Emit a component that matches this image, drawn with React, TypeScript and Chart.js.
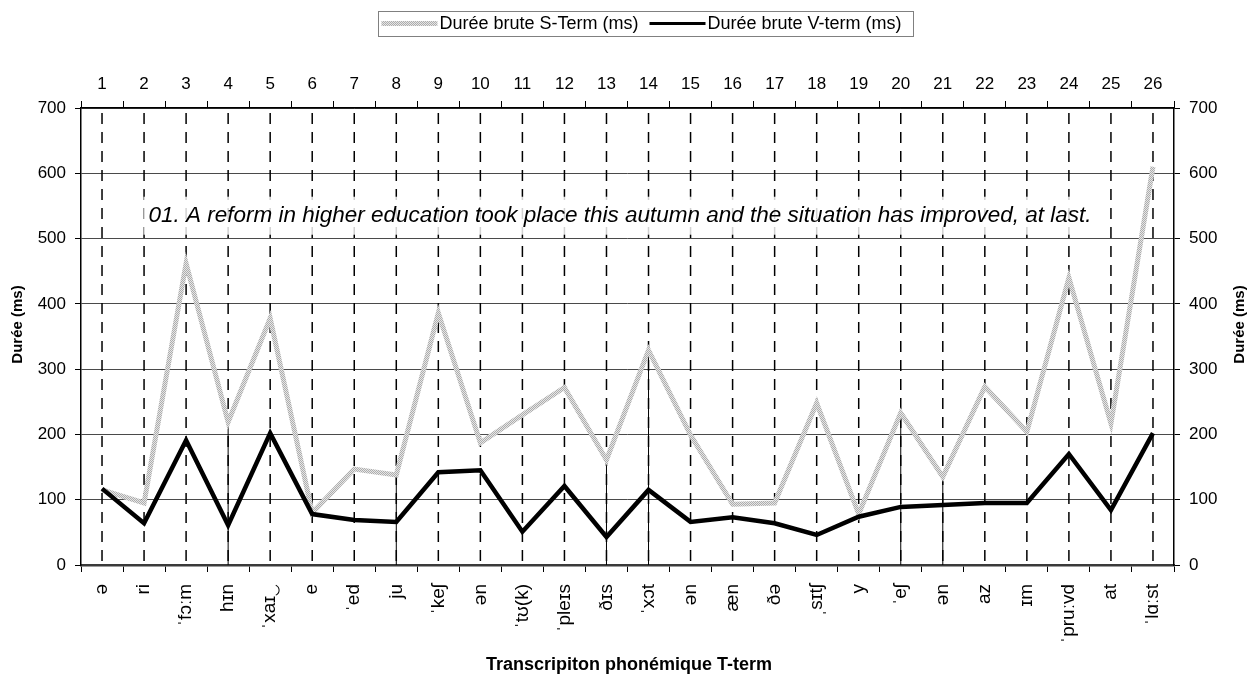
import React, { useEffect, useRef } from "react";
import { Chart, registerables } from "chart.js";

Chart.register(...registerables);

const categories = ["ə", "ri", "ˈfɔːm", "hɪn", "ˈxaɪ‿", "e", "ˈed", "ju", "ˈkeʃ", "ən", "ˈtʊ(k)", "ˈpleɪs", "ðɪs", "ˈxɔt", "ən", "æn", "ðə", "ˌsɪtʃ", "y", "ˈeʃ", "ən", "az", "ɪm", "ˈpruːvd", "at", "ˈlɑːst"];
const topLabels = ["1", "2", "3", "4", "5", "6", "7", "8", "9", "10", "11", "12", "13", "14", "15", "16", "17", "18", "19", "20", "21", "22", "23", "24", "25", "26"];
const sTerm = [115, 95, 462, 219, 378, 80, 147, 138, 386, 187, 230, 272, 161, 329, 199, 93, 95, 248, 78, 233, 135, 273, 204, 440, 217, 610];
const vTerm = [117, 64, 191, 61, 202, 78, 69, 66, 142, 145, 51, 121, 43, 115, 66, 73, 64, 46, 74, 89, 92, 95, 95, 170, 84, 202];
const yMin = 0;
const yMax = 700;
const yStep = 100;
const dropLineCats = [4, 8, 13, 14, 20, 21];
const seriesNames = ["Durée brute S-Term (ms)", "Durée brute V-term (ms)"];
const yTitle = "Durée (ms)";
const xTitle = "Transcripiton phonémique T-term";
const annotation = "01. A reform in higher education took place this autumn and the situation has improved, at last.";

const FAMILY = '"Liberation Sans", Arial, sans-serif';

export default function App() {
  const ref = useRef<HTMLCanvasElement>(null);

  useEffect(() => {
    const canvas = ref.current!;
    const pc = document.createElement("canvas");
    pc.width = 2;
    pc.height = 2;
    const g = pc.getContext("2d")!;
    g.fillStyle = "#e6e6e6";
    g.fillRect(0, 0, 2, 2);
    g.fillStyle = "#adadad";
    g.fillRect(0, 0, 1, 1);
    g.fillRect(1, 1, 1, 1);
    const pattern = canvas.getContext("2d")!.createPattern(pc, "repeat")!;

    const overlay = {
      id: "overlay",
      beforeDatasetsDraw(chart: any) {
        const { ctx, chartArea: a, scales } = chart;
        const xs = scales.x;
        const ys = scales.y;
        ctx.save();
        ctx.strokeStyle = "#000";
        ctx.lineWidth = 1.5;
        ctx.setLineDash([11, 8]);
        categories.forEach((_, i) => {
          const px = xs.getPixelForValue(i);
          ctx.beginPath();
          ctx.moveTo(px, a.top + 5);
          ctx.lineTo(px, a.bottom);
          ctx.stroke();
        });
        ctx.setLineDash([]);
        ctx.lineWidth = 1;
        dropLineCats.forEach((c) => {
          const i = c - 1;
          const px = xs.getPixelForValue(i);
          ctx.beginPath();
          ctx.moveTo(px, ys.getPixelForValue(sTerm[i]));
          ctx.lineTo(px, a.bottom);
          ctx.stroke();
        });
        ctx.font = `italic 22.5px ${FAMILY}`;
        const tw = ctx.measureText(annotation).width;
        const cx = a.left + 539;
        const cy = ys.getPixelForValue(535);
        ctx.fillStyle = "rgba(255,255,255,0.82)";
        ctx.fillRect(cx - tw / 2 - 5, cy - 19, tw + 10, 38);
        ctx.fillStyle = "#000";
        ctx.textAlign = "center";
        ctx.textBaseline = "middle";
        ctx.fillText(annotation, cx, cy);
        ctx.restore();
      },
      afterDraw(chart: any) {
        const { ctx, chartArea: a } = chart;
        ctx.save();
        ctx.fillStyle = "#000";
        ctx.textBaseline = "middle";
        ctx.textAlign = "center";
        ctx.font = `bold 15px ${FAMILY}`;
        const midY = (a.top + a.bottom) / 2 - 12;
        ctx.save();
        ctx.translate(18, midY);
        ctx.rotate(-Math.PI / 2);
        ctx.fillText(yTitle, 0, 0);
        ctx.restore();
        ctx.save();
        ctx.translate(1240, midY);
        ctx.rotate(-Math.PI / 2);
        ctx.fillText(yTitle, 0, 0);
        ctx.restore();
        ctx.font = `bold 18px ${FAMILY}`;
        ctx.fillText(xTitle, 629, 665);

        ctx.font = `18px ${FAMILY}`;
        const w1 = ctx.measureText(seriesNames[0]).width;
        const w2 = ctx.measureText(seriesNames[1]).width;
        const sample = 56;
        const total = 3 + sample + 2 + w1 + 11 + sample + 2 + w2 + 12;
        const left = 646 - total / 2;
        const top = 11;
        const h = 25;
        const ly = top + h / 2;
        ctx.strokeStyle = "#808080";
        ctx.lineWidth = 1;
        ctx.strokeRect(Math.round(left) + 0.5, top + 0.5, Math.round(total), h);
        let x = left + 3;
        ctx.strokeStyle = pattern;
        ctx.lineWidth = 5;
        ctx.beginPath();
        ctx.moveTo(x, ly);
        ctx.lineTo(x + sample, ly);
        ctx.stroke();
        x += sample + 2;
        ctx.textAlign = "left";
        ctx.fillText(seriesNames[0], x, ly + 1);
        x += w1 + 11;
        ctx.strokeStyle = "#000";
        ctx.lineWidth = 3;
        ctx.beginPath();
        ctx.moveTo(x, ly);
        ctx.lineTo(x + sample, ly);
        ctx.stroke();
        x += sample + 2;
        ctx.fillText(seriesNames[1], x, ly + 1);
        ctx.restore();
      },
    };

    const tickFont = { family: FAMILY, size: 17 };

    const chart = new Chart(canvas, {
      type: "line",
      data: {
        labels: categories,
        datasets: [
          {
            label: seriesNames[0],
            data: sTerm,
            borderColor: pattern as any,
            borderWidth: 5,
            pointRadius: 0,
            tension: 0,
            borderJoinStyle: "miter",
            xAxisID: "x",
            yAxisID: "y",
            order: 2,
          },
          {
            label: seriesNames[1],
            data: vTerm,
            borderColor: "#000",
            borderWidth: 4.5,
            pointRadius: 0,
            tension: 0,
            borderJoinStyle: "miter",
            xAxisID: "x",
            yAxisID: "y",
            order: 1,
          },
        ],
      },
      options: {
        animation: false,
        responsive: false,
        events: [],
        layout: { padding: 0 },
        plugins: { legend: { display: false }, tooltip: { enabled: false } },
        scales: {
          x: {
            type: "category",
            position: "bottom",
            offset: true,
            grid: { offset: true, drawOnChartArea: false, tickLength: 7, color: "#000", tickColor: "#000" },
            border: { color: "#3a3a3a", width: 2.5 },
            ticks: { minRotation: 90, maxRotation: 90, autoSkip: false, color: "#000", font: { family: FAMILY, size: 19 }, padding: 12 },
            afterFit: (s: any) => { s.height = 114; },
          },
          x2: {
            type: "category",
            position: "top",
            labels: topLabels,
            offset: true,
            grid: { offset: true, drawOnChartArea: false, tickLength: 7, color: "#000", tickColor: "#000" },
            border: { color: "#000", width: 1.5 },
            ticks: { maxRotation: 0, autoSkip: false, color: "#000", font: tickFont, padding: 6 },
            afterFit: (s: any) => { s.height = 108; },
          },
          y: {
            position: "left",
            min: yMin,
            max: yMax,
            ticks: { stepSize: yStep, color: "#000", font: tickFont, padding: 9 },
            grid: { color: "#4a4a4a", lineWidth: 1, tickLength: 6, tickColor: "#000" },
            border: { color: "#000", width: 1.5 },
            afterFit: (s: any) => { s.width = 81; },
          },
          y2: {
            position: "right",
            min: yMin,
            max: yMax,
            ticks: { stepSize: yStep, color: "#000", font: tickFont, padding: 9 },
            grid: { drawOnChartArea: false, tickLength: 6, tickColor: "#000" },
            border: { color: "#000", width: 1.5 },
            afterFit: (s: any) => { s.width = 83; },
          },
        },
      },
      plugins: [overlay],
    });
    return () => chart.destroy();
  }, []);

  return (
    <div style={{ position: "fixed", left: 0, top: 0, width: 1257, height: 679, background: "#fff" }}>
      <canvas ref={ref} width={1257} height={679} style={{ display: "block" }} />
    </div>
  );
}
